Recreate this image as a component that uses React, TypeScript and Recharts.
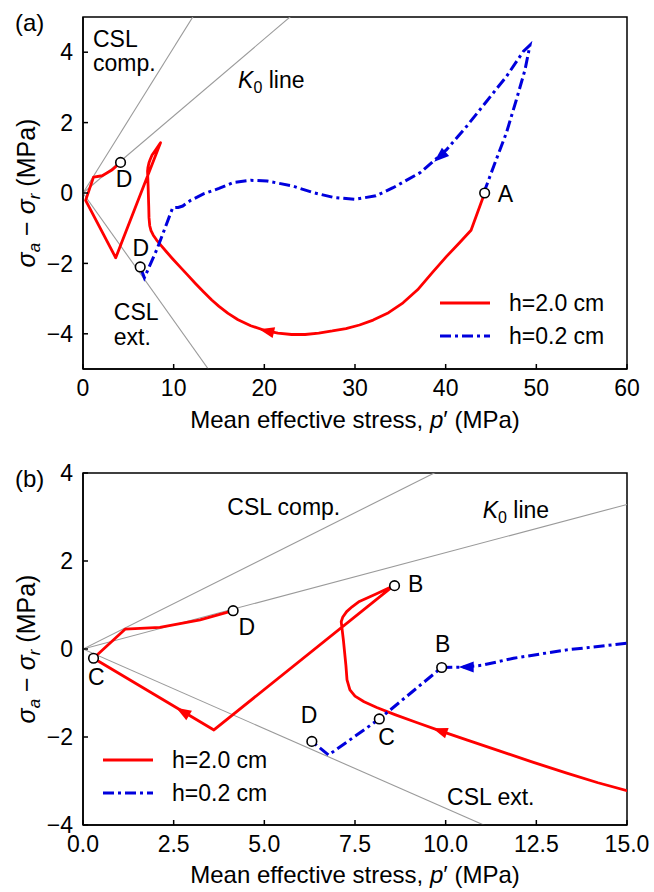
import React from 'react';
import { ComposedChart, Line, Scatter, XAxis, YAxis, Legend, Label, ReferenceArea } from 'recharts';

const FONT = '"Liberation Sans", Arial, Helvetica, sans-serif';
const FS = 23;
const RED = '#ff0000';
const BLUE = '#0000dd';
const GREY = '#9a9a9a';
const DASHDOT = '11 4 3 4';

// h = 2.0 cm, p' (MPa) and q (MPa) along the stress path, starting at A
const h20P = [44.3, 42.8, 41.5, 40.1, 38.5, 36.9, 35.3, 33.7, 32.0, 30.5, 29.0, 27.5, 26.0, 24.5, 23.0, 21.5, 20.0, 18.5,
  17.1, 16.0, 15.0, 14.2, 13.34, 12.4, 11.5, 10.6, 9.85, 9.2, 8.6, 8.1, 7.75, 7.5, 7.36, 7.28, 7.25, 7.18, 7.13, 7.12,
  7.16, 7.27, 7.42, 7.62, 8.08, 8.55, 3.61, 0.29, 1.16, 2.12, 3.23, 4.14];
const h20Q = [0, -1.06, -1.42, -1.8, -2.27, -2.75, -3.12, -3.4, -3.61, -3.75, -3.85, -3.92, -3.98, -4.02, -4.02, -3.98, -3.9, -3.77,
  -3.6, -3.42, -3.22, -3.04, -2.82, -2.57, -2.32, -2.07, -1.86, -1.67, -1.49, -1.33, -1.2, -1.07, -0.93, -0.7, -0.38, 0.2, 0.55, 0.62,
  0.72, 0.85, 0.96, 1.08, 1.25, 1.43, -1.84, -0.21, 0.45, 0.49, 0.66, 0.87];

// h = 0.2 cm
const h02P = [44.2, 45.3, 46.7, 47.8, 48.75, 49.3, 48.56, 46.7, 44.5, 42.3, 40.1, 37.2, 34.2, 32.3, 30.0, 27.7, 25.4, 23.1,
  20.3, 18.5, 16.6, 15.0, 13.34, 11.87, 11.0, 10.5, 9.89, 8.17, 6.77, 6.31];
const h02Q = [0, 0.76, 1.71, 2.65, 3.5, 4.2, 4.02, 3.31, 2.6, 1.89, 1.23, 0.58, 0.15, -0.08, -0.18, -0.13, 0.01, 0.2,
  0.34, 0.36, 0.3, 0.13, -0.02, -0.21, -0.37, -0.41, -0.42, -1.59, -2.41, -2.1];

// reference lines through the origin (slope q/p')
const cslCompSlope = 0.413;
const k0Slope = 0.219;
const cslExtSlope = -0.362;

// panel (a)
const aXTicks = [0, 10, 20, 30, 40, 50, 60];
const aYTicks = [-4, -2, 0, 2, 4];
const aMarkers = [{ x: 44.3, y: 0 }, { x: 4.14, y: 0.87 }, { x: 6.31, y: -2.1 }];
const aPointLabels = [
  { x: 46.6, y: -0.04, text: 'A' },
  { x: 4.52, y: 0.39, text: 'D' },
  { x: 6.37, y: -1.55, text: 'D' },
];
const aNotes = [
  { x: 1.1, y: 4.37, text: 'CSL' },
  { x: 1.1, y: 3.69, text: 'comp.' },
  { x: 17.1, y: 3.2, text: 'K0 line' },
  { x: 3.4, y: -3.39, text: 'CSL' },
  { x: 3.4, y: -4.09, text: 'ext.' },
];
const aRedArrows = [{ x: 20.3, y: -3.92, dx: -1, dy: 0.06 }];
const aBlueArrows = [{ x: 39.4, y: 1.04, dx: -2.9, dy: -0.65 }];

// panel (b)
const bXTicks = [0, 2.5, 5, 7.5, 10, 12.5, 15];
const bYTicks = [-4, -2, 0, 2, 4];
const bMarkers = [
  { x: 8.59, y: 1.44 }, { x: 4.14, y: 0.87 }, { x: 0.29, y: -0.21 },
  { x: 9.89, y: -0.42 }, { x: 8.17, y: -1.59 }, { x: 6.31, y: -2.1 },
];
const bPointLabels = [
  { x: 9.17, y: 1.47, text: 'B' },
  { x: 4.52, y: 0.49, text: 'D' },
  { x: 0.37, y: -0.64, text: 'C' },
  { x: 9.92, y: 0.11, text: 'B' },
  { x: 6.23, y: -1.51, text: 'D' },
  { x: 8.37, y: -2.0, text: 'C' },
];
const bNotes = [
  { x: 3.98, y: 3.23, text: 'CSL comp.' },
  { x: 11.02, y: 3.15, text: 'K0 line' },
  { x: 10.04, y: -3.36, text: 'CSL ext.' },
];
const bRedArrows = [
  { x: 2.76, y: -1.43, dx: -3.32, dy: 1.63 },
  { x: 9.85, y: -1.86, dx: -1.4, dy: 0.4 },
];
const bBlueArrows = [{ x: 10.58, y: -0.41, dx: -1, dy: 0 }];

type Pt = { x: number; y: number };
const zip = (p: number[], q: number[]): Pt[] => p.map((x, i) => ({ x, y: q[i] }));
const ray = (slope: number): Pt[] => [{ x: 0, y: 0 }, { x: 100, y: slope * 100 }];

const h20 = zip(h20P, h20Q);
const h02 = zip(h02P, h02Q);

const minus = (s: string) => s.replace('-', '\u2212');

const NoteText = ({ cx, cy, payload, anchor }: any) => {
  if (payload.text === 'K0 line') {
    return (
      <text x={cx} y={cy + 8} fontFamily={FONT} fontSize={FS} textAnchor={anchor}>
        <tspan fontStyle="italic">K</tspan>
        <tspan fontSize={16} dy={5}>0</tspan>
        <tspan dy={-5}> line</tspan>
      </text>
    );
  }
  return (
    <text x={cx} y={cy + 8} fontFamily={FONT} fontSize={FS} textAnchor={anchor}>
      {payload.text}
    </text>
  );
};

const Marker = ({ cx, cy }: any) => (
  <circle cx={cx} cy={cy} r={4.8} fill="#fff" stroke="#000" strokeWidth={1.6} />
);

const arrowShape = (kx: number, ky: number, color: string) => (props: any) => {
  const { cx, cy, payload } = props;
  const ang = (Math.atan2(-payload.dy * ky, payload.dx * kx) * 180) / Math.PI;
  return (
    <polygon
      points="8,0 -7,-5.5 -7,5.5"
      fill={color}
      transform={`translate(${cx},${cy}) rotate(${ang})`}
    />
  );
};

const LegendBox = () => (
  <svg width={200} height={66} style={{ display: 'block' }}>
    <line x1={0} x2={50} y1={16} y2={16} stroke={RED} strokeWidth={3} />
    <text x={69} y={24} fontFamily={FONT} fontSize={FS}>h=2.0 cm</text>
    <line x1={0} x2={50} y1={49} y2={49} stroke={BLUE} strokeWidth={3} strokeDasharray={DASHDOT} />
    <text x={69} y={57} fontFamily={FONT} fontSize={FS}>h=0.2 cm</text>
  </svg>
);

const YTitle = ({ viewBox }: any) => {
  const cx = 27;
  const cy = viewBox.y + viewBox.height / 2;
  return (
    <text
      x={cx}
      y={cy}
      transform={`rotate(-90, ${cx}, ${cy})`}
      textAnchor="middle"
      dy={8}
      fontFamily={FONT}
      fontSize={25}
    >
      <tspan fontStyle="italic">σ</tspan>
      <tspan fontStyle="italic" fontSize={17} dy={5}>a</tspan>
      <tspan dy={-5}> − </tspan>
      <tspan fontStyle="italic">σ</tspan>
      <tspan fontStyle="italic" fontSize={17} dy={5}>r</tspan>
      <tspan dy={-5}> (MPa)</tspan>
    </text>
  );
};

interface PanelProps {
  height: number;
  top: number;
  xDomain: [number, number];
  yDomain: [number, number];
  xTicks: number[];
  yTicks: number[];
  xFmt: (v: number) => string;
  markers: Pt[];
  pointLabels: any[];
  notes: any[];
  redArrows: any[];
  blueArrows: any[];
  legendPos: { left: number; top: number };
  tag: string;
  tagY: number;
  titleY: number;
}

function Panel(p: PanelProps) {
  const W = 654;
  const left = 83;
  const right = 27;
  const plotW = W - left - right;
  const xAxisH = p.height - p.top - 352;
  const plotH = p.height - p.top - xAxisH;
  const kx = plotW / (p.xDomain[1] - p.xDomain[0]);
  const ky = plotH / (p.yDomain[1] - p.yDomain[0]);
  const tickStyle = { fill: '#000', fontSize: FS, fontFamily: FONT };
  const axisLine = { stroke: '#000', strokeWidth: 1.5 };

  return (
    <ComposedChart
      width={W}
      height={p.height}
      margin={{ top: p.top, right, bottom: 0, left: 0 }}
    >
      <XAxis
        dataKey="x"
        type="number"
        domain={p.xDomain}
        ticks={p.xTicks}
        interval={0}
        allowDataOverflow
        height={xAxisH}
        tickFormatter={p.xFmt}
        tick={tickStyle}
        tickSize={-5}
        tickMargin={16}
        axisLine={axisLine}
        tickLine={axisLine}
      >
        <Label
          content={() => (
            <text x={left + plotW / 2} y={p.titleY} textAnchor="middle" fontFamily={FONT} fontSize={24}>
              Mean effective stress, <tspan fontStyle="italic">p</tspan>′ (MPa)
            </text>
          )}
        />
      </XAxis>
      <YAxis
        dataKey="y"
        type="number"
        domain={p.yDomain}
        ticks={p.yTicks}
        interval={0}
        allowDataOverflow
        width={left}
        tickFormatter={(v: number) => minus(String(v))}
        tick={tickStyle}
        tickSize={-5}
        tickMargin={15}
        axisLine={axisLine}
        tickLine={axisLine}
      >
        <Label content={YTitle} />
        <Label
          content={() => (
            <text x={15} y={p.tagY} fontFamily={FONT} fontSize={24}>
              {p.tag}
            </text>
          )}
        />
      </YAxis>

      <ReferenceArea
        x1={p.xDomain[0]}
        x2={p.xDomain[1]}
        y1={p.yDomain[0]}
        y2={p.yDomain[1]}
        fill="none"
        stroke="#000"
        strokeWidth={1.5}
        ifOverflow="visible"
      />

      <Line data={ray(cslCompSlope)} dataKey="y" stroke={GREY} strokeWidth={1.1} dot={false} isAnimationActive={false} legendType="none" />
      <Line data={ray(k0Slope)} dataKey="y" stroke={GREY} strokeWidth={1.1} dot={false} isAnimationActive={false} legendType="none" />
      <Line data={ray(cslExtSlope)} dataKey="y" stroke={GREY} strokeWidth={1.1} dot={false} isAnimationActive={false} legendType="none" />

      <Line data={h20} dataKey="y" name="h=2.0 cm" stroke={RED} strokeWidth={2.8} dot={false} strokeLinejoin="round" isAnimationActive={false} />
      <Line data={h02} dataKey="y" name="h=0.2 cm" stroke={BLUE} strokeWidth={3} strokeDasharray={DASHDOT} dot={false} isAnimationActive={false} />

      <Scatter data={p.redArrows} shape={arrowShape(kx, ky, RED)} isAnimationActive={false} legendType="none" />
      <Scatter data={p.blueArrows} shape={arrowShape(kx, ky, BLUE)} isAnimationActive={false} legendType="none" />
      <Scatter data={p.markers} shape={Marker} isAnimationActive={false} legendType="none" />
      <Scatter data={p.pointLabels} shape={(s: any) => <NoteText {...s} anchor="middle" />} isAnimationActive={false} legendType="none" />
      <Scatter data={p.notes} shape={(s: any) => <NoteText {...s} anchor="start" />} isAnimationActive={false} legendType="none" />

      <Legend
        layout="vertical"
        align="center"
        verticalAlign="middle"
        wrapperStyle={{ left: p.legendPos.left, top: p.legendPos.top, width: 200 }}
        content={() => <LegendBox />}
      />
    </ComposedChart>
  );
}

export default function App() {
  return (
    <div style={{ position: 'absolute', left: 0, top: 0, width: 654, background: '#fff' }}>
      <Panel
        height={440}
        top={17}
        xDomain={[0, 60]}
        yDomain={[-5, 5]}
        xTicks={aXTicks}
        yTicks={aYTicks}
        xFmt={(v) => String(v)}
        markers={aMarkers}
        pointLabels={aPointLabels}
        notes={aNotes}
        redArrows={aRedArrows}
        blueArrows={aBlueArrows}
        legendPos={{ left: 440, top: 287 }}
        tag="(a)"
        tagY={31}
        titleY={428}
      />
      <Panel
        height={452}
        top={33}
        xDomain={[0, 15]}
        yDomain={[-4, 4]}
        xTicks={bXTicks}
        yTicks={bYTicks}
        xFmt={(v) => v.toFixed(1)}
        markers={bMarkers}
        pointLabels={bPointLabels}
        notes={bNotes}
        redArrows={bRedArrows}
        blueArrows={bBlueArrows}
        legendPos={{ left: 103, top: 304 }}
        tag="(b)"
        tagY={47}
        titleY={443}
      />
    </div>
  );
}
